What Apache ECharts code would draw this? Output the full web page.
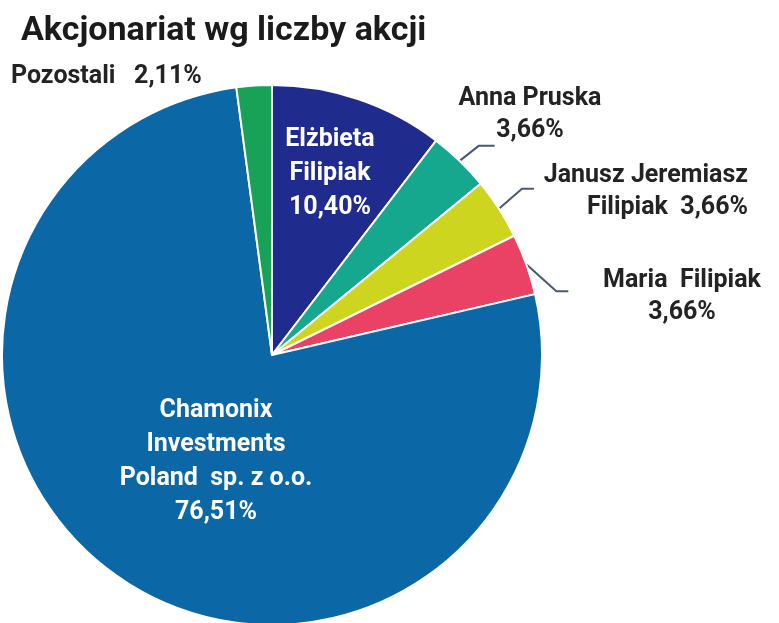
<!DOCTYPE html>
<html>
<head>
<meta charset="utf-8">
<script src="https://cdn.jsdelivr.net/npm/echarts@6/dist/echarts.min.js"></script>
<style>
    html, body { margin: 0; padding: 0; background: #ffffff; }
    #chart { width: 779px; height: 623px; }
</style>
</head>
<body>
<div id="chart"></div>
<script>
// shareholders, clockwise from 12 o'clock
const holders = ['Elżbieta\nFilipiak', 'Anna Pruska', 'Janusz Jeremiasz\nFilipiak ', 'Maria  Filipiak', 'Chamonix\nInvestments\nPoland  sp. z o.o.', 'Pozostali  ']
const shares = [10.40, 3.66, 3.66, 3.66, 76.51, 2.11]
const colors = ['#1f2c8d', '#15a88f', '#cdd51e', '#ea4264', '#0b67a5', '#18a258']

// where each label sits and how its text is laid out
const labelSpots = [
    { x: 330, y: 174, align: 'center', inside: true },
    { x: 530, y: 115, align: 'center', line: [[19, -15], [35, -15]] },
    { x: 748, y: 192, align: 'right', line: [[23, -20], [35, -20]] },
    { x: 682, y: 297, align: 'center', line: [[30, 27], [42, 27]] },
    { x: 216, y: 462, align: 'center', inside: true },
    { x: 11, y: 77, align: 'left', noLine: true },
]

function pct(v) {
    return v.toFixed(2).replace('.', ',') + '%'
}

const chart = echarts.init(document.getElementById('chart'), null, { renderer: 'canvas' })

const data = holders.map((name, i) => {
    const spot = labelSpots[i]
    const sep = (i === 2 || i === 5) ? ' ' : '\n'
    const item = {
        name: name,
        value: shares[i],
        itemStyle: { color: colors[i] },
        label: {
            formatter: name + sep + pct(shares[i]),
            align: spot.align,
        },
    }
    if (spot.inside) {
        item.label.position = 'inside'
        item.label.color = '#ffffff'
        item.label.lineHeight = 34
        item.labelLine = { show: false }
    } else if (spot.noLine) {
        item.labelLine = { show: false }
    }
    return item
})

const option = {
    backgroundColor: '#ffffff',
    animation: false,
    title: {
        text: 'Akcjonariat wg liczby akcji',
        left: 16,
        top: 9,
        textStyle: {
            fontFamily: 'Roboto',
            fontSize: 34,
            fontWeight: 'bold',
            color: '#1b1b1b',
        },
    },
    series: [
        {
            type: 'pie',
            center: [272, 355],
            radius: 270,
            startAngle: 90,
            clockwise: true,
            avoidLabelOverlap: false,
            itemStyle: {
                borderColor: '#ffffff',
                borderWidth: 2,
            },
            label: {
                show: true,
                position: 'outside',
                fontFamily: 'Roboto',
                fontSize: 25,
                fontWeight: 'bold',
                color: '#232323',
                lineHeight: 32,
            },
            labelLine: {
                show: true,
                length: 20,
                length2: 12,
                lineStyle: { color: '#4b5878', width: 2 },
            },
            labelLayout: function (p) {
                const spot = labelSpots[p.dataIndex]
                const out = {
                    x: spot.x,
                    y: spot.y,
                    align: spot.align,
                    verticalAlign: 'middle',
                }
                if (spot.line && p.labelLinePoints) {
                    const s = p.labelLinePoints[0]
                    out.labelLinePoints = [
                        [s[0], s[1]],
                        [s[0] + spot.line[0][0], s[1] + spot.line[0][1]],
                        [s[0] + spot.line[1][0], s[1] + spot.line[1][1]],
                    ]
                }
                return out
            },
            data: data,
        },
    ],
}

chart.setOption(option)
</script>
</body>
</html>
